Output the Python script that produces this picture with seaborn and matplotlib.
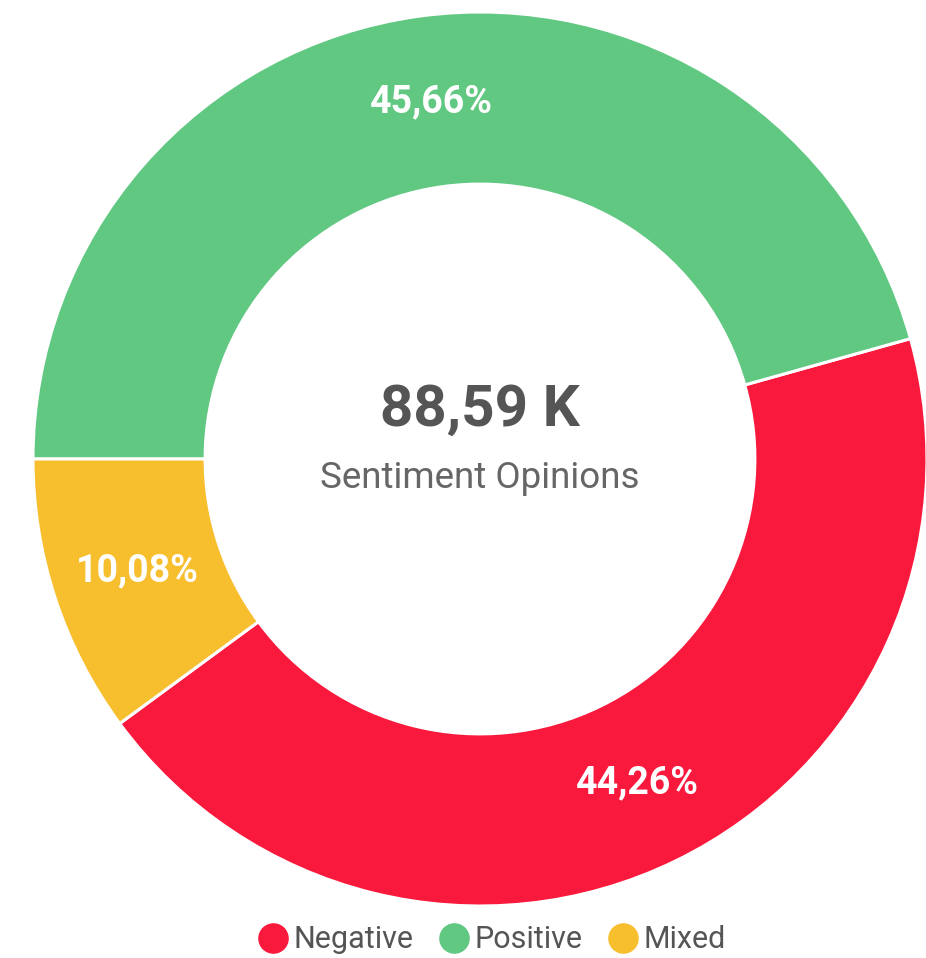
import numpy as np
import matplotlib.pyplot as plt
import seaborn as sns
from matplotlib.lines import Line2D

# 感情分析の内訳
labels = ['Negative', 'Positive', 'Mixed']
shares = [44.26, 45.66, 10.08]
colors = ['#F9193C', '#61C882', '#F7BE2E']
total_label = '88,59 K'
subtitle = 'Sentiment Opinions'

sns.set_theme(style='white')
plt.rcParams['font.family'] = ['Roboto', 'DejaVu Sans']

fig = plt.figure(figsize=(9.26, 9.58), dpi=100)
ax = fig.add_axes([0, 0, 1, 1])

cx, cy, r = 480, 958 - 459, 447
start = 180 + shares[2] / 100 * 360

wedges, texts, autotexts = ax.pie(
    shares, colors=colors, center=(cx, cy), radius=r,
    startangle=start, counterclock=True,
    autopct=lambda p: f"{p:.2f}%".replace('.', ','),
    pctdistance=0.807,
    wedgeprops=dict(width=r * 0.385, edgecolor='white', linewidth=2.2),
    frame=True,
)
ax.set_xlim(0, 926)
ax.set_ylim(0, 958)
ax.set_aspect('equal')
ax.axis('off')

for t in autotexts:
    t.set_color('white')
    t.set_fontsize(27)
    t.set_fontweight('bold')

ax.text(cx, 958 - 410, total_label, ha='center', va='center',
        fontsize=42, fontweight='bold', color='#555555')
ax.text(cx, 958 - 478, subtitle, ha='center', va='center',
        fontsize=26.5, color='#666666')

handles = [Line2D([0], [0], marker='o', linestyle='', markersize=21,
                  markerfacecolor=c, markeredgecolor=c) for c in colors]
fig.legend(handles, labels, loc='center', bbox_to_anchor=(491 / 926, 1 - 940 / 958),
           ncol=3, frameon=False, fontsize=22, handletextpad=0.1,
           columnspacing=0.8, handlelength=1.1, labelcolor='#555555')

fig.savefig('out.png', dpi=100)
